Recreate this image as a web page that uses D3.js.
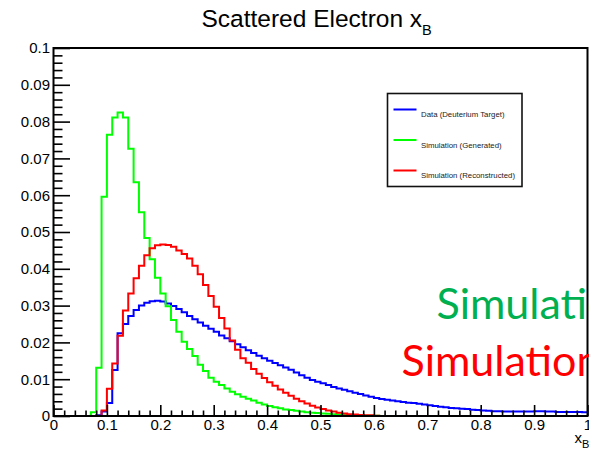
<!DOCTYPE html>
<html>
<head>
<meta charset="utf-8">
<script src="https://cdn.jsdelivr.net/npm/d3@7"></script>
<style>
  body { margin: 0; background: #fff; }
  svg { display: block; }
</style>
</head>
<body>
<svg id="chart" width="589" height="450"></svg>
<script>
// Histogram binning: 100 bins of width 0.01 over x_B in [0, 1]
const binLowEdges = d3.range(100).map(i => +(i * 0.01).toFixed(2));
const binUpper = 1.0;

// Axis ticks and labels
const xMajorTicks = [0, 0.1, 0.2, 0.3, 0.4, 0.5, 0.6, 0.7, 0.8, 0.9, 1.0];
const xTickLabels = ["0", "0.1", "0.2", "0.3", "0.4", "0.5", "0.6", "0.7", "0.8", "0.9", "1"];
const yMajorTicks = [0, 0.01, 0.02, 0.03, 0.04, 0.05, 0.06, 0.07, 0.08, 0.09, 0.1];
const yTickLabels = ["0", "0.01", "0.02", "0.03", "0.04", "0.05", "0.06", "0.07", "0.08", "0.09", "0.1"];

// Legend entries
const seriesNames = ["Data (Deuterium Target)", "Simulation (Generated)", "Simulation (Reconstructed)"];

// Normalised bin contents, one value per bin (0.00 ... 0.99)
const dataDeuterium = [
  0, 0, 0, 0, 0, 0, 0, 0, 0.0002, 0.0012,
  0.0035, 0.0125, 0.0225, 0.0250, 0.0272, 0.0288, 0.0300, 0.0308, 0.0312, 0.0313,
  0.0311, 0.0306, 0.0299, 0.0291, 0.0282, 0.0272, 0.0263, 0.0254, 0.0245, 0.0237,
  0.0229, 0.0219, 0.0211, 0.0203, 0.0195, 0.0187, 0.0179, 0.0171, 0.0164, 0.0157,
  0.0150, 0.0144, 0.0138, 0.0132, 0.0126, 0.0118, 0.0111, 0.0104, 0.0098, 0.0093,
  0.0089, 0.0084, 0.0079, 0.0075, 0.0071, 0.0067, 0.0063, 0.0060, 0.0056, 0.0052,
  0.0049, 0.0046, 0.0044, 0.0042, 0.0040, 0.0038, 0.0036, 0.0035, 0.0033, 0.0031,
  0.0029, 0.0027, 0.0025, 0.0024, 0.0022, 0.0021, 0.0020, 0.0019, 0.0017, 0.0016,
  0.0015, 0.0014, 0.0013, 0.0013, 0.0012, 0.0012, 0.0012, 0.0012, 0.0012, 0.0012,
  0.0013, 0.0013, 0.0012, 0.0012, 0.0011, 0.0011, 0.0011, 0.0011, 0.0011, 0.0010
];

const simGenerated = [
  0, 0, 0, 0, 0, 0, 0, 0.0010, 0.0131, 0.0596,
  0.0764, 0.0811, 0.0825, 0.0811, 0.0726, 0.0635, 0.0554, 0.0484, 0.0426, 0.0376,
  0.0333, 0.0298, 0.0261, 0.0229, 0.0202, 0.0182, 0.0163, 0.0139, 0.0122, 0.0104,
  0.0093, 0.0084, 0.0075, 0.0066, 0.0059, 0.0052, 0.0047, 0.0042, 0.0036, 0.0031,
  0.0027, 0.0024, 0.0021, 0.0018, 0.0016, 0.0014, 0.0012, 0.0010, 0.0009, 0.0008,
  0.0007, 0.0006, 0.0005, 0.0004, 0.0003, 0.0003, 0.0002, 0.0002, 0.0001, 0.0001,
  0.0001, 0, 0, 0, 0, 0, 0, 0, 0, 0,
  0, 0, 0, 0, 0, 0, 0, 0, 0, 0,
  0, 0, 0, 0, 0, 0, 0, 0, 0, 0,
  0, 0, 0, 0, 0, 0, 0, 0, 0, 0
];

const simReconstructed = [
  0, 0, 0, 0, 0, 0, 0, 0, 0, 0.0015,
  0.0074, 0.0143, 0.0218, 0.0287, 0.0333, 0.0374, 0.0408, 0.0437, 0.0456, 0.0464,
  0.0466, 0.0465, 0.0460, 0.0450, 0.0440, 0.0428, 0.0408, 0.0385, 0.0356, 0.0326,
  0.0297, 0.0266, 0.0238, 0.0205, 0.0180, 0.0157, 0.0145, 0.0128, 0.0115, 0.0103,
  0.0092, 0.0082, 0.0072, 0.0063, 0.0055, 0.0047, 0.0040, 0.0034, 0.0028, 0.0023,
  0.0019, 0.0015, 0.0012, 0.0009, 0.0007, 0.0005, 0.0004, 0.0003, 0.0002, 0.0002,
  0.0001, 0, 0, 0, 0, 0, 0, 0, 0, 0,
  0, 0, 0, 0, 0, 0, 0, 0, 0, 0,
  0, 0, 0, 0, 0, 0, 0, 0, 0, 0,
  0, 0, 0, 0, 0, 0, 0, 0, 0, 0
];

const svg = d3.select("#chart");
const FONT = "'Liberation Sans', Arial, Helvetica, sans-serif";

const x = d3.scaleLinear().domain([0, 1]).range([53.5, 587.5]);
const y = d3.scaleLinear().domain([0, 0.1]).range([416, 48]);

// Title: Scattered Electron x_B
const title = svg.append("text")
  .attr("x", 201.5).attr("y", 27)
  .attr("font-family", FONT).attr("font-size", 24.5).attr("fill", "#000");
title.append("tspan").text("Scattered Electron x");
title.append("tspan").attr("dy", 8).attr("font-size", 14.5).text("B");

// Histogram outlines (step shapes through bin edges)
const stepLine = d3.line()
  .x(d => x(d[0]))
  .y(d => y(d[1]))
  .curve(d3.curveStepAfter);

function histPoints(values) {
  const pts = binLowEdges.map((e, i) => [e, values[i]]);
  pts.push([binUpper, values[values.length - 1]]);
  return pts;
}

// x-axis base line and y-axis line
svg.append("line").attr("x1", x(0)).attr("x2", x(1)).attr("y1", y(0)).attr("y2", y(0))
  .attr("stroke", "#000").attr("stroke-width", 2);

const series = [
  { values: dataDeuterium, color: "#0000ff" },
  { values: simGenerated, color: "#00ff00" },
  { values: simReconstructed, color: "#ff0000" }
];

svg.append("g").selectAll("path")
  .data(series)
  .join("path")
  .attr("d", d => stepLine(histPoints(d.values)))
  .attr("fill", "none")
  .attr("stroke", d => d.color)
  .attr("stroke-width", 2)
  .attr("stroke-linejoin", "miter");

// Frame around the plotting area
svg.append("rect")
  .attr("x", x(0)).attr("y", y(0.1))
  .attr("width", x(1) - x(0)).attr("height", y(0) - y(0.1))
  .attr("fill", "none").attr("stroke", "#000").attr("stroke-width", 2);

// Minor ticks: 5 subdivisions between major ticks
const xMinorTicks = d3.range(0, 51).map(i => +(i * 0.02).toFixed(2)).filter(v => Math.round(v * 100) % 10 !== 0);
const yMinorTicks = d3.range(0, 51).map(i => +(i * 0.002).toFixed(3)).filter(v => Math.round(v * 1000) % 10 !== 0);

function styleAxis(g) {
  g.select(".domain").remove();
  g.selectAll(".tick line").attr("stroke", "#000").attr("stroke-width", 1.6);
  g.selectAll(".tick text").attr("font-family", FONT).attr("font-size", 15).attr("fill", "#000");
}

svg.append("g").attr("transform", `translate(0,${y(0)})`)
  .call(d3.axisBottom(x).tickValues(xMinorTicks).tickSize(-5.5).tickFormat(""))
  .call(styleAxis);
svg.append("g").attr("transform", `translate(0,${y(0)})`)
  .call(d3.axisBottom(x).tickValues(xMajorTicks).tickSize(-11).tickPadding(3.5)
    .tickFormat((d, i) => xTickLabels[i]))
  .call(styleAxis);

svg.append("g").attr("transform", `translate(${x(0)},0)`)
  .call(d3.axisLeft(y).tickValues(yMinorTicks).tickSize(-9).tickFormat(""))
  .call(styleAxis);
svg.append("g").attr("transform", `translate(${x(0)},0)`)
  .call(d3.axisLeft(y).tickValues(yMajorTicks).tickSize(-16.5).tickPadding(3.5)
    .tickFormat((d, i) => yTickLabels[i]))
  .call(styleAxis);

// x-axis title
const xTitle = svg.append("text")
  .attr("x", 574.5).attr("y", 443)
  .attr("font-family", FONT).attr("font-size", 15).attr("fill", "#000");
xTitle.append("tspan").text("x");
xTitle.append("tspan").attr("dy", 5).attr("font-size", 11).text("B");

// Legend
const legend = svg.append("g");
legend.append("rect")
  .attr("x", 387.5).attr("y", 93.5).attr("width", 134.5).attr("height", 93)
  .attr("fill", "#fff").attr("stroke", "#111").attr("stroke-width", 1.6);
const legendRowY = [109.5, 140, 170.5];
legend.selectAll("line.entry")
  .data(series)
  .join("line")
  .attr("class", "entry")
  .attr("x1", 393.5).attr("x2", 416.5)
  .attr("y1", (d, i) => legendRowY[i]).attr("y2", (d, i) => legendRowY[i])
  .attr("stroke", d => d.color).attr("stroke-width", 2);
legend.selectAll("text.entry")
  .data(seriesNames)
  .join("text")
  .attr("class", "entry")
  .attr("x", 421).attr("y", (d, i) => legendRowY[i] + 7.5)
  .attr("font-family", FONT).attr("font-size", 7.8).attr("fill", "#222")
  .text(d => d);

// Overlaid annotation words
const ANNOT_FONT = "Lato, 'Open Sans', sans-serif";
svg.append("text")
  .attr("x", 436.5).attr("y", 318.5)
  .attr("font-family", ANNOT_FONT).attr("font-size", 42)
  .attr("fill", "#00b050")
  .attr("textLength", 199).attr("lengthAdjust", "spacingAndGlyphs")
  .text("Simulation");
svg.append("text")
  .attr("x", 401.5).attr("y", 375.5)
  .attr("font-family", ANNOT_FONT).attr("font-size", 42)
  .attr("fill", "#ff0000")
  .attr("textLength", 199).attr("lengthAdjust", "spacingAndGlyphs")
  .text("Simulation");
</script>
</body>
</html>
